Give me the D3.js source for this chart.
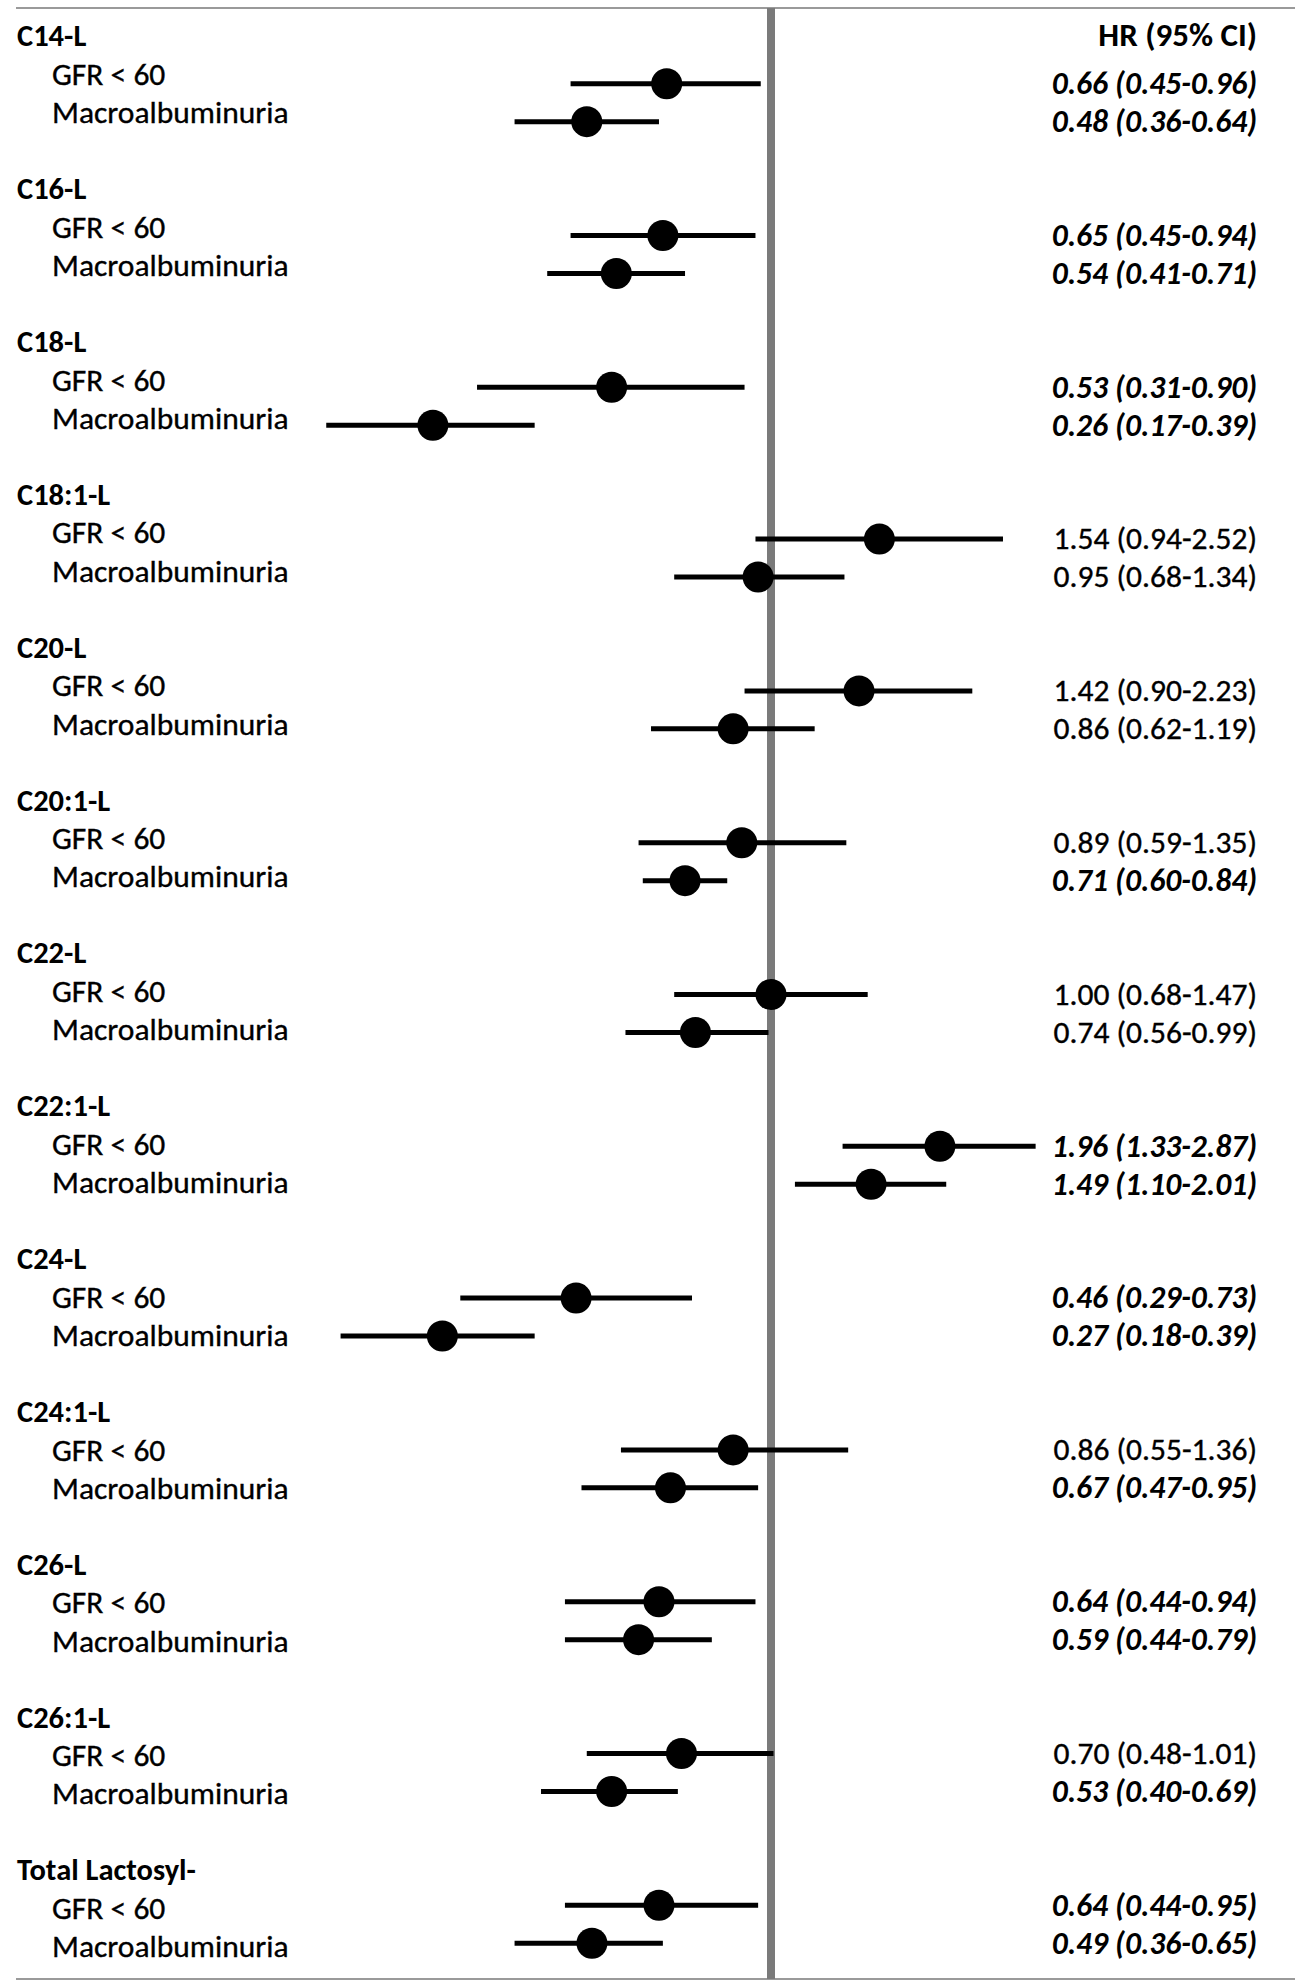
<!DOCTYPE html>
<html><head><meta charset="utf-8">
<script src="https://cdn.jsdelivr.net/npm/d3@7"></script>
<style>body{margin:0;background:#fff}svg{display:block}</style>
</head><body>
<script>
// ---- data ----
const groups = ["C14-L","C16-L","C18-L","C18:1-L","C20-L","C20:1-L","C22-L","C22:1-L","C24-L","C24:1-L","C26-L","C26:1-L","Total Lactosyl-"];
const outcomes = ["GFR < 60","Macroalbuminuria"];
const gfrHR    = [0.66,0.65,0.53,1.54,1.42,0.89,1.00,1.96,0.46,0.86,0.64,0.70,0.64];
const gfrLow   = [0.45,0.45,0.31,0.94,0.90,0.59,0.68,1.33,0.29,0.55,0.44,0.48,0.44];
const gfrHigh  = [0.96,0.94,0.90,2.52,2.23,1.35,1.47,2.87,0.73,1.36,0.94,1.01,0.95];
const macroHR   = [0.48,0.54,0.26,0.95,0.86,0.71,0.74,1.49,0.27,0.67,0.59,0.53,0.49];
const macroLow  = [0.36,0.41,0.17,0.68,0.62,0.60,0.56,1.10,0.18,0.47,0.44,0.40,0.36];
const macroHigh = [0.64,0.71,0.39,1.34,1.19,0.84,0.99,2.01,0.39,0.95,0.79,0.69,0.65];
const gfrSignificant   = [true,true,true,false,false,false,false,true,true,false,true,false,true];
const macroSignificant = [true,true,true,false,false,true,false,true,true,true,true,true,true];
const columnHeader = "HR (95% CI)";
const referenceHR = 1;

// ---- build rows ----
const rows = [];
groups.forEach((g, i) => {
  rows.push({idx: i*4, kind: "header", label: g});
  rows.push({idx: i*4+1, kind: "item", label: outcomes[0], hr: gfrHR[i], lo: gfrLow[i], hi: gfrHigh[i], sig: gfrSignificant[i]});
  rows.push({idx: i*4+2, kind: "item", label: outcomes[1], hr: macroHR[i], lo: macroLow[i], hi: macroHigh[i], sig: macroSignificant[i]});
});
const items = rows.filter(r => r.kind === "item");
const nRows = groups.length*4 - 1;

// ---- layout ----
const W = 1295, H = 1985;
const FONT = "Carlito, Calibri, Lato, sans-serif";
const FS = 31.5, FSB = 30.5;

const svg = d3.select("body").append("svg").attr("width", W).attr("height", H)
  .style("background", "#fff");

const pxPerLn = 251, xRef = 771;
const xDomain = [0.15, 3];
const x = d3.scaleLog().domain(xDomain)
  .range(xDomain.map(v => xRef + pxPerLn*Math.log(v)));

const yPlot = d3.scaleLinear().domain([0, nRows-1]).range([45.75, 45.75 + (nRows-1)*37.95]);
const yTab  = d3.scaleLinear().domain([0, nRows-1]).range([35.4, 35.4 + (nRows-1)*38.21]);

const topY = 8, botY = 1979;

// frame lines
svg.append("line").attr("x1", 16).attr("x2", W).attr("y1", topY).attr("y2", topY)
  .attr("stroke", "#9a9a9a").attr("stroke-width", 2);
svg.append("line").attr("x1", 16).attr("x2", W).attr("y1", botY).attr("y2", botY)
  .attr("stroke", "#9a9a9a").attr("stroke-width", 2);

// reference line
svg.append("line").attr("x1", x(referenceHR)).attr("x2", x(referenceHR))
  .attr("y1", topY).attr("y2", botY)
  .attr("stroke", "#7a7a7a").attr("stroke-width", 8);

// CI bars
svg.append("g").selectAll("line").data(items).join("line")
  .attr("x1", d => x(d.lo)).attr("x2", d => x(d.hi))
  .attr("y1", d => yPlot(d.idx)).attr("y2", d => yPlot(d.idx))
  .attr("stroke", "#000").attr("stroke-width", 5);

// points
svg.append("g").selectAll("circle").data(items).join("circle")
  .attr("cx", d => x(d.hr)).attr("cy", d => yPlot(d.idx)).attr("r", 15.5)
  .attr("fill", "#000");

// left labels
svg.append("g").selectAll("text").data(rows).join("text")
  .attr("x", d => d.kind === "header" ? 17 : 52)
  .attr("y", d => yTab(d.idx) + (d.kind === "header" ? FSB : FS)*0.36)
  .attr("font-family", FONT)
  .attr("font-size", d => d.kind === "header" ? FSB : FS)
  .attr("font-weight", d => d.kind === "header" ? 700 : 400)
  .attr("fill", "#000")
  .attr("stroke", d => d.kind === "header" ? "none" : "#000")
  .attr("stroke-width", 0.35)
  .text(d => d.label);

// right column header
svg.append("text").attr("x", 1257).attr("y", yTab(0) + FSB*0.36)
  .attr("text-anchor", "end").attr("font-family", FONT).attr("font-size", 33)
  .attr("font-weight", 700).text(columnHeader);

// right values
const f2 = d3.format(".2f");
svg.append("g").selectAll("text").data(items).join("text")
  .attr("x", 1257).attr("y", d => yPlot(d.idx) - 1 + FS*0.36)
  .attr("text-anchor", "end").attr("font-family", FONT).attr("font-size", FS)
  .attr("font-weight", d => d.sig ? 700 : 400)
  .attr("font-style", d => d.sig ? "italic" : "normal")
  .attr("fill", "#000")
  .attr("stroke", d => d.sig ? "none" : "#000")
  .attr("stroke-width", 0.35)
  .text(d => `${f2(d.hr)} (${f2(d.lo)}-${f2(d.hi)})`);
</script>
</body></html>
